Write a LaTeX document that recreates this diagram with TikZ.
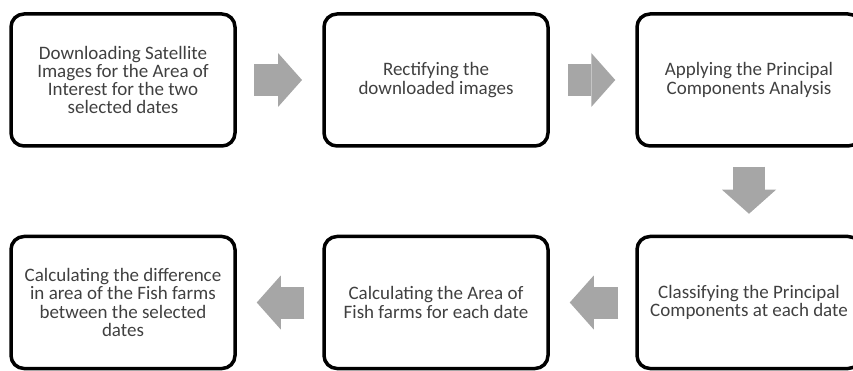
\documentclass[tikz,border=0pt]{standalone}
\usepackage{fontspec}
\setmainfont{Carlito}
\usetikzlibrary{arrows.meta}
\definecolor{arrowgrey}{RGB}{166,166,166}
\definecolor{textgrey}{RGB}{64,64,64}
\tikzset{
	stepbox/.style = {draw = black, line width = 3.5pt, rounded corners = 13pt,
		minimum width = 224pt, minimum height = 132pt, align = center,
		text = textgrey, font = \fontsize{19}{18.3}\selectfont},
	blockarrow/.style = {draw = arrowgrey, line width = 32pt,
		-{Triangle[width = 54pt, length = 24pt, line width = 0pt]}},
}
\begin{document}
\begin{tikzpicture} [x = 1pt, y = -1pt]
	\path [use as bounding box, clip] (0,0) rectangle (853,371);
	% top row
	\node [stepbox] (download) at (123,80) {Downloading Satellite\\Images for the Area of\\Interest for the two\\selected dates};
	\node [stepbox] (rectify) at (436,80) {Rectifying the\\downloaded images};
	\node [stepbox] (pca) at (749,80) {Applying the Principal\\Components Analysis};
	% bottom row
	\node [stepbox] (classify) at (749,302.5) {Classifying the Principal\\Components at each date};
	\node [stepbox] (area) at (436,302.5) {Calculating the Area of\\Fish farms for each date};
	\node [stepbox] (difference) at (123,302.5) {Calculating the difference\\in area of the Fish farms\\between the selected\\dates};
	% arrows
	\draw [blockarrow, shorten < = 17.25pt, shorten > = 20.25pt] (download) -- (rectify);
	\draw [blockarrow, shorten < = 18pt, shorten > = 20pt] (rectify) -- (pca);
	\draw [blockarrow, shorten < = 19pt, shorten > = 21pt] (pca) -- (classify);
	\draw [blockarrow, shorten < = 17pt, shorten > = 20pt] (classify) -- (area);
	\draw [blockarrow, shorten < = 18pt, shorten > = 20pt] (area) -- (difference);
\end{tikzpicture}
\end{document}
